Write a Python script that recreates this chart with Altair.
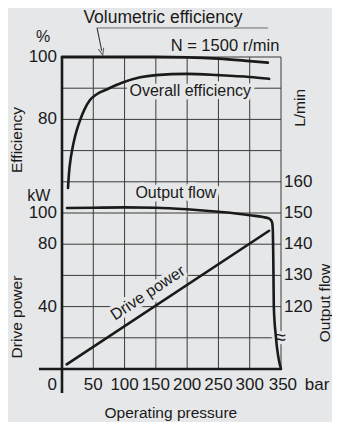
import altair as alt
import pandas as pd

BG = "#e6e7e8"
INK = "#1a1a1a"
GRID = "#3a3a3a"
FONT = "Liberation Sans"

# ---- data ----
pressure_ticks = [50, 100, 150, 200, 250, 300, 350]
grid_x = [50, 100, 150, 200, 250, 300, 350]
grid_kw = [20, 40, 60, 80, 100, 120, 140, 160, 180, 200]

eff_ticks = [100, 80]
kw_ticks = [100, 80, 40]
flow_ticks = [160, 150, 140, 130, 120]

vol_p = [0, 150, 200, 250, 300, 329]
vol_e = [100, 100, 99.9, 99.5, 98.7, 98.2]

ov_p = [9.6, 11.2, 13.9, 16.5, 19.5, 23.5, 29, 36, 44.7, 55, 71.4, 98, 125, 150, 200, 250, 300, 331]
ov_e = [58, 62.8, 67.5, 70.5, 73.4, 76.5, 79.8, 83.2, 86.2, 88, 89.6, 91.9, 93.5, 94.2, 94.6, 94.2, 93.6, 93]

flow_p = [8, 50, 100, 150, 200, 250, 300, 330, 334, 336, 337, 337.5, 338, 338.5, 342, 350]
flow_q = [151.6, 151.7, 151.8, 151.7, 151.2, 150.4, 149.3, 148.3, 147.7, 146.8, 144, 138, 130, 120, 110, 100]

pow_p = [7.5, 331]
pow_kw = [3.0, 88.6]

# ---- scales ----
XS = alt.Scale(domain=[0, 350], nice=False, zero=False)
Y_EFF = alt.Scale(domain=[0, 100], nice=False, zero=False)
Y_KW = alt.Scale(domain=[0, 200], nice=False, zero=False)
Y_FLOW = alt.Scale(domain=[100, 200], nice=False, zero=False)


def xenc(f="x"):
    return alt.X(f + ":Q", scale=XS, axis=None)


def yenc(sc, f="y"):
    return alt.Y(f + ":Q", scale=sc, axis=None)


def line(px, py, sc, width=2.6, interp="monotone"):
    df = pd.DataFrame({"x": px, "y": py})
    return alt.Chart(df).mark_line(color=INK, strokeWidth=width, interpolate=interp,
                                   strokeCap="round", strokeJoin="round").encode(
        x=xenc(), y=yenc(sc))


def rule(x1, x2, y1, y2, sc, color=INK, width=1.0):
    df = pd.DataFrame({"x": x1 if isinstance(x1, list) else [x1],
                       "x2": x2 if isinstance(x2, list) else [x2],
                       "y": y1 if isinstance(y1, list) else [y1],
                       "y2": y2 if isinstance(y2, list) else [y2]})
    return alt.Chart(df).mark_rule(color=color, strokeWidth=width).encode(
        x=xenc(), x2="x2:Q", y=yenc(sc), y2="y2:Q")


def text(xs, ys, ts, sc, size=16, angle=0, align="center", baseline="middle",
         dx=0, dy=0, halo=False):
    df = pd.DataFrame({"x": xs, "y": ys, "t": ts})
    kw = dict(font=FONT, fontSize=size, angle=angle, align=align,
              baseline=baseline, dx=dx, dy=dy)
    if halo:
        mk = alt.Chart(df).mark_text(fill=BG, stroke=BG, strokeWidth=7,
                                     strokeJoin="round", **kw)
    else:
        mk = alt.Chart(df).mark_text(fill=INK, **kw)
    return mk.encode(x=xenc(), y=yenc(sc), text="t:N")


# grid
n = len(grid_x)
gv = rule(grid_x, grid_x, [0] * n, [200] * n, Y_KW, GRID, 1.0)
m = len(grid_kw)
gh = rule([0] * m, [350] * m, grid_kw, grid_kw, Y_KW, GRID, 1.0)

# labels inside plot (with halo to break grid)
in_labels = [
    ([205], [89.1], ["Overall efficiency"], Y_EFF, 16, 0),
    ([182], [156.4], ["Output flow"], Y_FLOW, 16, 0),
    ([137], [48.7], ["Drive power"], Y_KW, 16, 326.5),
    ([349], [19.9], ["\u2248"], Y_KW, 20, 0),
]
halos = [text(a, b, c, s, size=z, angle=g, halo=True) for a, b, c, s, z, g in in_labels]
fills = [text(a, b, c, s, size=z, angle=g) for a, b, c, s, z, g in in_labels]

# curves
curves = [
    line(vol_p, vol_e, Y_EFF, 2.8),
    line(ov_p, ov_e, Y_EFF, 2.6),
    line(flow_p, flow_q, Y_FLOW, 2.6),
    line(pow_p, pow_kw, Y_KW, 2.6, "linear"),
]

# thick axes
axes = [
    rule(0, 0, 200, -15.4, Y_KW, INK, 2.6),
    rule(-36.8, 350, 0, 0, Y_KW, INK, 2.6),
]

# leader for Volumetric efficiency
leader = [
    rule(56, 329, 109.3, 109.3, Y_EFF, "#6a6a6a", 1.0),
    rule(56, 63.5, 109.3, 102.0, Y_EFF, "#333333", 1.1),
]
arrow = alt.Chart(pd.DataFrame({"x": [64.2], "y": [101.4]})).mark_point(
    shape="M-1,-1.6L0,0.9L1,-1.6", filled=False, color="#333333", size=30,
    strokeWidth=1.1, angle=345).encode(x=xenc(), y=yenc(Y_EFF))

# tick labels & titles
labels = [
    text([0] * len(eff_ticks), eff_ticks, [str(v) for v in eff_ticks], Y_EFF, 17,
         align="right", dx=-5),
    text([0] * len(kw_ticks), kw_ticks, [str(v) for v in kw_ticks], Y_KW, 17,
         align="right", dx=-5),
    text([350] * len(flow_ticks), flow_ticks, [str(v) for v in flow_ticks], Y_FLOW, 17,
         align="left", dx=3),
    text(pressure_ticks[:-1], [-10.3] * (len(pressure_ticks) - 1),
         [str(v) for v in pressure_ticks[:-1]], Y_KW, 17),
    text([353], [-10.3], ["350"], Y_KW, 17),
    text([0], [-10.3], ["0"], Y_KW, 17, align="right", dx=-5),
    text([388], [-10.3], ["bar"], Y_KW, 17, align="left"),
    text([-30], [106.4], ["%"], Y_EFF, 16),
    text([-37], [111], ["kW"], Y_KW, 16),
    text([-72], [73.4], ["Efficiency"], Y_EFF, 15.5, angle=270),
    text([-72], [33.3], ["Drive power"], Y_KW, 15.5, angle=270),
    text([380], [83.7], ["L/min"], Y_EFF, 15.5, angle=270),
    text([420], [42.3], ["Output flow"], Y_KW, 15.5, angle=270),
    text([174], [-28.2], ["Operating pressure"], Y_KW, 15.5),
    text([161.4], [112.4], ["Volumetric efficiency"], Y_EFF, 17.5),
    text([260.5], [103.5], ["N = 1500 r/min"], Y_EFF, 16.5),
]

layers = [gv, gh] + halos + curves + axes + leader + [arrow] + fills + labels

chart = alt.layer(*layers).resolve_scale(y="independent").properties(
    width=219, height=312,
    padding={"left": 54, "top": 49, "right": 51, "bottom": 53},
    autosize=alt.AutoSizeParams(type="none"),
    background=BG,
).configure_view(stroke=None)

chart.save("out.html", embed_options={"renderer": "svg", "actions": False})
